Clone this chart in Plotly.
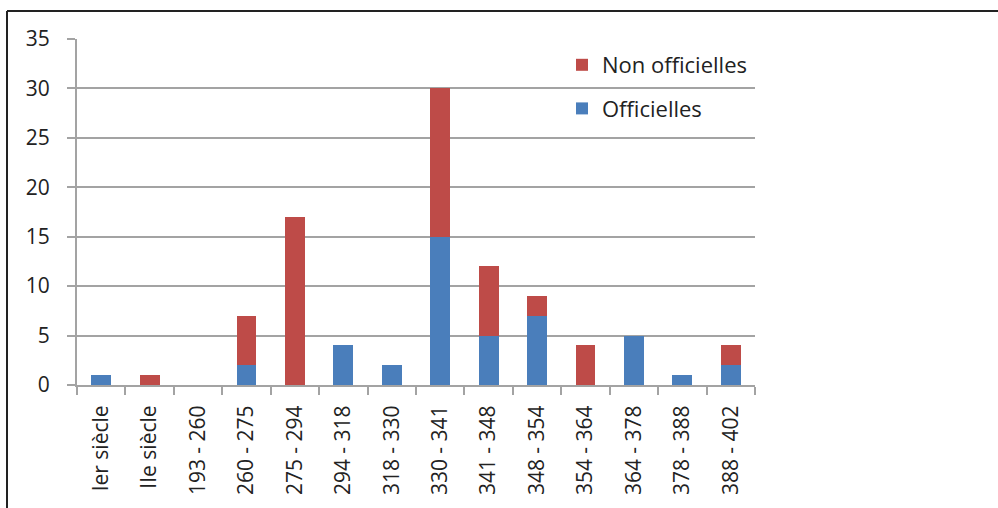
import plotly.graph_objects as go

categories = ["Ier siècle", "IIe siècle", "193 - 260", "260 - 275", "275 - 294", "294 - 318",
              "318 - 330", "330 - 341", "341 - 348", "348 - 354", "354 - 364", "364 - 378",
              "378 - 388", "388 - 402"]
officielles = [1, 0, 0, 2, 0, 4, 2, 15, 5, 7, 0, 5, 1, 2]
non_officielles = [0, 1, 0, 5, 17, 0, 0, 15, 7, 2, 4, 0, 0, 2]

FONT = "Open Sans"
TXT = "#222222"
GRID = "#A3A3A3"

fig = go.Figure()
fig.add_trace(go.Bar(x=categories, y=officielles, name="Officielles",
                     marker=dict(color="#4A7EBB", line=dict(width=0)),
                     legendgroup="a", legendrank=2))
fig.add_trace(go.Bar(x=categories, y=non_officielles, name="Non officielles",
                     marker=dict(color="#BE4B48", line=dict(width=0)),
                     legendgroup="b", legendrank=1))

L, R, T, B = 77, 243, 39, 123
pw, ph = 998 - L - R, 508 - T - B

fig.update_layout(
    width=998, height=508,
    margin=dict(l=L, r=R, t=T, b=B, pad=0),
    barmode="stack", bargap=0.59,
    plot_bgcolor="white", paper_bgcolor="white",
    font=dict(family=FONT, size=20, color=TXT),
    showlegend=True,
    legend=dict(x=(562 - L) / pw, y=1 - (44 - T) / ph, xanchor="left", yanchor="top",
                traceorder="grouped", tracegroupgap=12, font=dict(size=22, color=TXT),
                itemwidth=30, bgcolor="rgba(0,0,0,0)"),
    xaxis=dict(type="category", tickson="boundaries", ticks="outside", ticklen=8,
               tickcolor=GRID, tickwidth=2, showline=True, linecolor=GRID, linewidth=2,
               tickangle=-90, showgrid=False, ticklabelstandoff=10,
               tickfont=dict(size=21, color=TXT)),
    yaxis=dict(range=[0, 35], dtick=5, ticks="outside", ticklen=8, tickcolor=GRID, tickwidth=2,
               showline=True, linecolor=GRID, linewidth=2, showgrid=True, gridcolor=GRID,
               gridwidth=2, zeroline=False, ticklabelstandoff=13,
               tickfont=dict(size=21, color=TXT)),
    shapes=[
        dict(type="line", xref="paper", yref="paper",
             x0=(7 - L) / pw, x1=(7 - L) / pw, y0=1 + (T - 11) / ph, y1=-(B + 5) / ph,
             line=dict(color="#222222", width=2)),
        dict(type="line", xref="paper", yref="paper",
             x0=(7 - L) / pw, x1=(1005 - L) / pw, y0=1 + (T - 11) / ph, y1=1 + (T - 11) / ph,
             line=dict(color="#222222", width=2)),
    ],
)

fig.write_html("out.html", config={"displayModeBar": False},
               post_script="document.body.style.margin='0';document.body.style.overflow='hidden';")
